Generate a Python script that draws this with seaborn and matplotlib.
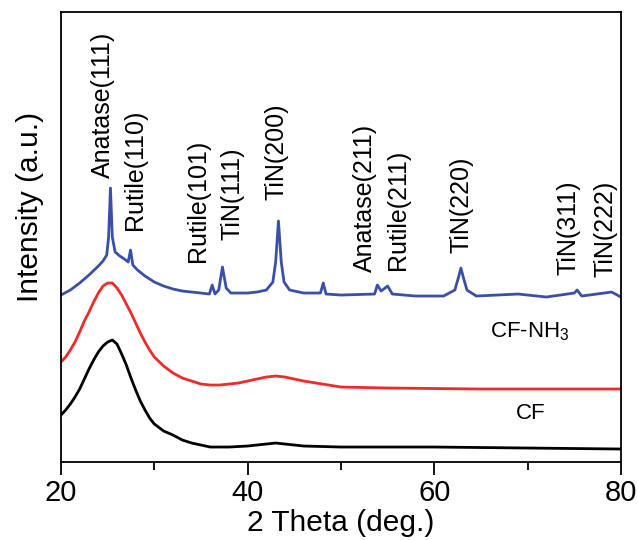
import pandas as pd
import matplotlib
matplotlib.use('Agg')
import matplotlib.pyplot as plt
import seaborn as sns

# data (2 theta in deg., intensity in arbitrary units)
cf_x = [20, 20.5, 21, 21.5, 22, 22.5, 23, 23.5, 24, 24.5, 25, 25.5, 26, 26.5, 27, 27.5, 28, 28.5,
        29, 29.5, 30, 31, 32, 33, 34, 35, 36, 38, 40, 42, 43, 44, 46, 50, 60, 70, 80]
cf_y = [47, 52, 58, 65, 73, 83, 93, 102, 110, 116, 120, 122, 118, 108, 97, 84, 72, 61,
        52, 44, 38, 31, 27, 22, 19, 17, 15, 15, 16, 18, 19, 18, 16, 15, 15, 14, 13]

nh3_x = [20, 20.5, 21, 21.5, 22, 22.5, 23, 23.5, 24, 24.5, 25, 25.5, 26, 26.5, 27, 27.5, 28, 28.5,
         29, 29.5, 30, 31, 32, 33, 34, 35, 36, 37, 38, 39, 40, 41, 42, 43, 44, 45, 46, 48, 50,
         55, 65, 80]
nh3_y = [100, 105, 112, 120, 130, 141, 150, 160, 169, 176, 179, 179, 174, 167, 158, 149, 139, 129,
         120, 112, 105, 96, 89, 84, 81, 78, 77, 77, 78, 79, 81, 83, 85, 86, 85, 83, 81, 78, 75,
         74, 73, 73]

tin_x = [20, 21, 22, 23, 24, 24.5, 24.9, 25.1, 25.3, 25.5, 25.8, 26.3, 26.8, 27.2, 27.45, 27.7,
         28.2, 29, 30, 31, 32, 33, 34, 35, 35.9, 36.2, 36.5, 36.9, 37.3, 37.7, 38.2, 40, 41, 42,
         42.7, 43.0, 43.3, 43.6, 43.9, 44.5, 46, 47.8, 48.1, 48.4, 50, 53.6, 53.9, 54.3, 55.0,
         55.5, 58, 61, 62.2, 62.6, 62.85, 63.1, 63.5, 64.5, 69, 72, 75, 75.3, 75.8, 79, 80]
tin_y = [167, 172, 179, 187, 196, 201, 207, 225, 274, 225, 210, 206, 203, 200, 212, 197,
         192, 186, 180, 176, 173, 171, 170, 169, 168, 177, 168, 172, 195, 174, 169, 169, 170, 172,
         180, 200, 241, 200, 180, 172, 169, 169, 179, 168, 167, 168, 177, 171, 176,
         168, 166, 166, 172, 185, 194, 185, 172, 166, 168, 165, 169, 172, 166, 170, 165]

peak_labels = ['Anatase(111)', 'Rutile(110)', 'Rutile(101)', 'TiN(111)', 'TiN(200)',
               'Anatase(211)', 'Rutile(211)', 'TiN(220)', 'TiN(311)', 'TiN(222)']
peak_x = [24.5, 27.9, 34.7, 38.4, 43.1, 52.6, 56.1, 62.9, 74.4, 78.3]
peak_y = [284, 232, 200, 222, 262, 190, 192, 209, 187, 185]

sns.set_style('ticks')
plt.rcParams['font.family'] = ['Liberation Sans', 'DejaVu Sans']
plt.rcParams['mathtext.fontset'] = 'custom'
plt.rcParams['mathtext.rm'] = 'Liberation Sans'
plt.rcParams['text.color'] = 'black'
plt.rcParams['axes.labelcolor'] = 'black'
plt.rcParams['axes.edgecolor'] = 'black'
plt.rcParams['xtick.color'] = 'black'

fig = plt.figure(figsize=(6.38, 5.4), dpi=100)
ax = fig.add_axes([0.0956, 0.1444, 0.8777, 0.8333])

curves = [(cf_x, cf_y, 'black'), (nh3_x, nh3_y, '#ee2b2b'), (tin_x, tin_y, '#3b4fa6')]
for xs, ys, c in curves:
    df = pd.DataFrame({'theta': xs, 'intensity': ys})
    sns.lineplot(data=df, x='theta', y='intensity', color=c, linewidth=2.0, ax=ax)

for lab, px, py in zip(peak_labels, peak_x, peak_y):
    ax.text(px, py, lab, rotation=90, ha='center', va='bottom', fontsize=18)

ax.text(66.0, 130, 'CF-NH$_3$', ha='left', va='center', fontsize=16)
ax.text(70.3, 49, 'CF', ha='center', va='center', fontsize=16)

ax.set_xlim(20, 80)
ax.set_ylim(0, 450)
ax.set_xticks([20, 40, 60, 80])
ax.set_xticks([30, 50, 70], minor=True)
ax.set_yticks([])
ax.tick_params(axis='x', which='major', length=9, width=1.3, labelsize=21, direction='out')
ax.tick_params(axis='x', which='minor', length=6, width=1.3, direction='out')
for s in ax.spines.values():
    s.set_linewidth(1.3)
ax.set_xlabel('2 Theta (deg.)', fontsize=21.5, labelpad=1)
ax.set_ylabel('Intensity (a.u.)', fontsize=21.5)
ax.yaxis.set_label_coords(-0.03, 0.567)

fig.savefig('out.png', dpi=100)
